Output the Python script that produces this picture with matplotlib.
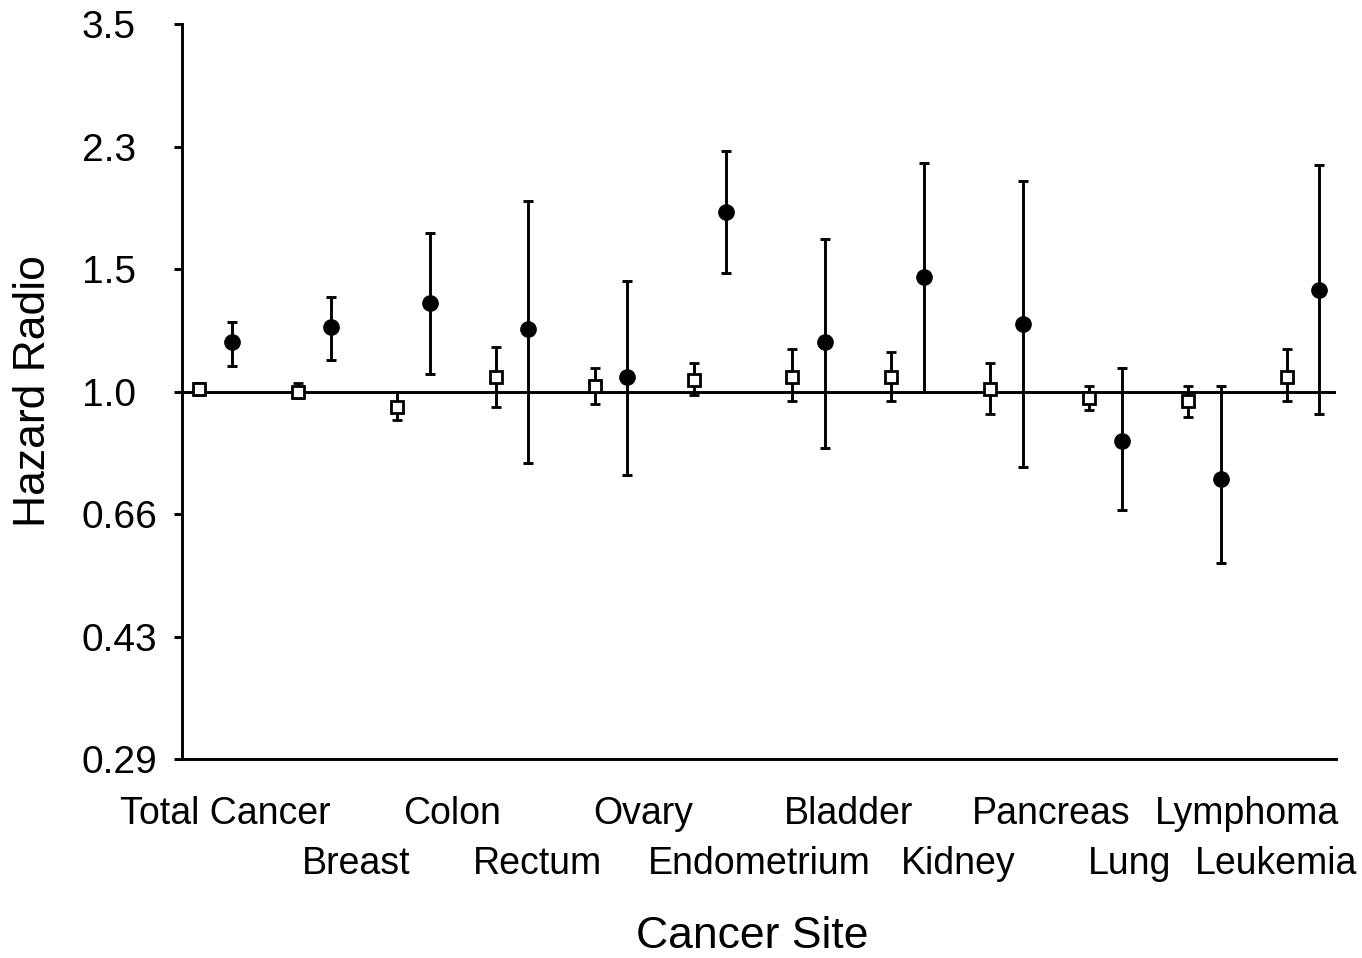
import numpy as np
import matplotlib
matplotlib.use('Agg')
import matplotlib.pyplot as plt

plt.rcParams['font.family'] = ['Liberation Sans', 'DejaVu Sans']

# Cancer sites (two staggered label rows)
sites = ['Total Cancer', 'Breast', 'Colon', 'Rectum', 'Ovary', 'Endometrium',
         'Bladder', 'Kidney', 'Pancreas', 'Lung', 'Lymphoma', 'Leukemia']

# open squares: hazard ratio and CI
sq_hr = [1.01, 1.00, 0.95, 1.05, 1.02, 1.04, 1.05, 1.05, 1.01, 0.98, 0.97, 1.05]
sq_lo = [0.99, 0.98, 0.91, 0.95, 0.96, 0.99, 0.97, 0.97, 0.93, 0.94, 0.92, 0.97]
sq_hi = [1.03, 1.03, 1.00, 1.16, 1.08, 1.10, 1.15, 1.14, 1.10, 1.02, 1.02, 1.15]

# filled circles: hazard ratio and CI
ci_hr = [1.18, 1.24, 1.34, 1.23, 1.05, 1.81, 1.18, 1.46, 1.25, 0.85, 0.75, 1.40]
ci_lo = [1.09, 1.11, 1.06, 0.79, 0.76, 1.48, 0.83, 1.00, 0.78, 0.675, 0.567, 0.93]
ci_hi = [1.26, 1.37, 1.69, 1.88, 1.44, 2.22, 1.66, 2.13, 2.01, 1.08, 1.02, 2.12]

ytick_vals = [1.5 ** k for k in range(-3, 4)]
ytick_labels = ['0.29', '0.43', '0.66', '1.0', '1.5', '2.3', '3.5']

# label centres (category units) for the hand-placed site labels
label_x = [0.095, 1.42, 2.39, 3.26, 4.33, 5.50, 6.40, 7.51, 8.45, 9.25, 10.43, 10.73]

fig = plt.figure(figsize=(13.62, 9.58), dpi=100)
ax = fig.add_axes([0.1334, 0.2074, 0.9809 - 0.1334, 0.9749 - 0.2074])

x = np.arange(len(sites))
off = 0.165
lw = 2.1

sq_hr = np.array(sq_hr)
ci_hr = np.array(ci_hr)
sq_err = [sq_hr - np.array(sq_lo), np.array(sq_hi) - sq_hr]
ci_err = [ci_hr - np.array(ci_lo), np.array(ci_hi) - ci_hr]

ax.axhline(1.0, color='black', lw=lw, zorder=1)

ax.errorbar(x - off, sq_hr, yerr=sq_err, fmt='s', color='black',
            mfc='white', mec='black', ms=9.3, mew=2.0,
            elinewidth=lw, capsize=3.5, capthick=lw, zorder=3)
ax.errorbar(x + off, ci_hr, yerr=ci_err, fmt='o', color='black',
            ms=11, elinewidth=lw, capsize=3.5, capthick=lw, zorder=3)

ax.set_yscale('log')
ax.set_ylim(1.5 ** -3, 1.5 ** 3)
ax.set_xlim(-0.343, 11.333)
ax.minorticks_off()
ax.set_yticks(ytick_vals)
ax.set_yticklabels(ytick_labels, ha='left', fontsize=28)
ax.tick_params(axis='y', direction='out', length=5.8, width=lw, pad=66)
ax.set_xticks([])

for s in ['top', 'right']:
    ax.spines[s].set_visible(False)
for s in ['left', 'bottom']:
    ax.spines[s].set_linewidth(lw)

trans = ax.get_xaxis_transform()
for i, (name, lx) in enumerate(zip(sites, label_x)):
    yy = -0.088 if i % 2 == 0 else -0.156
    ax.text(lx, yy, name, transform=trans, ha='center', va='baseline',
            fontsize=27)

fig.text(752.5 / 1362, 1 - 948 / 958, 'Cancer Site', ha='center',
         va='baseline', fontsize=32)
fig.text(34 / 1362, 1 - 391 / 958, 'Hazard Radio', ha='center',
         va='center', rotation=90, fontsize=32)

fig.savefig('out.png', dpi=100)
